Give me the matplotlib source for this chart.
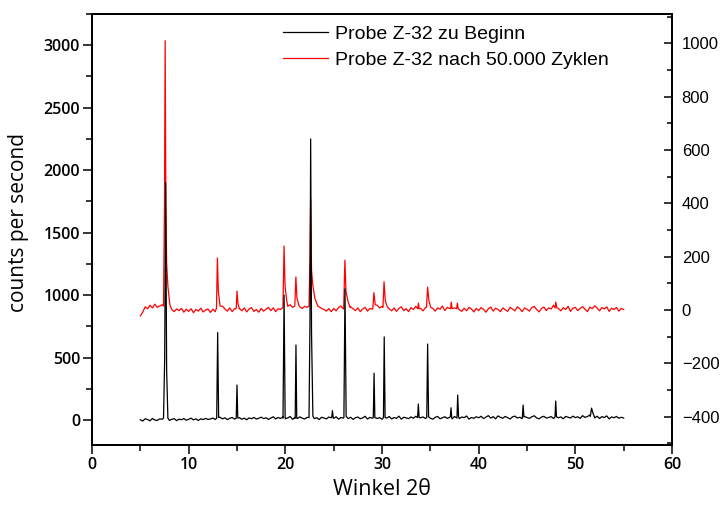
import numpy as np
import matplotlib
matplotlib.use("Agg")
import matplotlib.pyplot as plt
from matplotlib.ticker import MultipleLocator

# 2theta sampling of the flat (background) part of both scans, deg
theta_grid = np.arange(5.0, 55.001, 0.25)

# background of the initial sample (counts per second, left axis)
black_base = [
    2, -8, 10, 4, -6, 12, 0, -4, 9, 6,
    8, 14, -3, 5, 11, -5, 7, 2, 12, -2,
    6, 15, 1, 9, -4, 10, 3, 13, 5, 8,
    16, 4, 11, 22, 9, 18, 3, 14, 20, 7,
    12, 19, 6, 15, 2, 17, 10, 21, 8, 14,
    23, 11, 18, 5, 16, 26, 9, 20, 13, 24,
    10, 17, 28, 6, 19, 12, 25, 15, 8, 21,
    14, 27, 11, 19, 4, 22, 16, 9, 24, 18,
    13, 26, 7, 20, 15, 29, 11, 22, 5, 18,
    24, 10, 17, 30, 8, 21, 14, 27, 12, 19,
    6, 23, 16, 28, 9, 20, 13, 31, 7, 22,
    17, 11, 25, 14, 30, 8, 19, 24, 12, 27,
    15, 6, 21, 29, 10, 18, 26, 13, 22, 9,
    28, 16, 11, 24, 19, 32, 7, 20, 14, 26,
    18, 30, 12, 23, 35, 15, 27, 10, 33, 21,
    14, 29, 19, 8, 25, 31, 16, 22, 11, 28,
    20, 13, 26, 34, 17, 9, 24, 30, 15, 21,
    27, 12, 33, 18, 25, 10, 29, 22, 16, 31,
    19, 26, 13, 35, 21, 28, 40, 24, 17, 30,
    12, 27, 20, 33, 9, 25, 18, 29, 14, 22,
    16,
]

# background after 50.000 cycles (right axis)
red_base = [
    -22, -8, 12, 5, 18, 8, 22, 10, 15, 20,
    15, 10, 5, 2, -6, 4, -2, 6, -8, 3,
    -5, 5, -10, 2, -4, 7, -7, 0, 4, -9,
    3, -6, 6, 10, 14, 4, -4, 8, -6, 5,
    12, 6, -3, 8, -7, 4, 9, -5, 2, -8,
    6, -4, 3, 10, -2, 8, -6, 5, 2, 9,
    18, 14, 20, 10, 16, 8, 12, 6, 14, 10,
    15, 22, 18, 25, 12, 6, 2, -4, 5, -6,
    6, -3, 9, 15, 4, 30, 20, 12, 5, -2,
    8, -6, 4, 10, -4, 6, 3, 12, 18, 8,
    14, 25, 10, 4, -3, 8, -5, 6, 12, -2,
    5, -6, 9, 2, 14, 20, 6, -3, 10, 25,
    12, 6, -4, 8, 3, 15, -2, 10, 6, 18,
    8, 14, 2, -5, 7, -3, 10, 4, -7, 6,
    -2, 9, 3, -8, 5, 11, -4, 7, 2, -6,
    8, 1, -5, 10, 4, -3, 12, 5, -6, 8,
    3, -4, 9, 14, 2, -7, 6, 11, -2, 8,
    4, 18, 12, 6, -3, 9, 2, 14, -5, 7,
    10, -2, 6, 13, 3, -6, 11, 5, 16, 8,
    -3, 9, 4, 12, -5, 7, 2, 10, -4, 6,
    2,
]

# reflections: (2theta, value) from left foot over the top to right foot
black_peaks = [
    [(7.40, 15), (7.52, 500), (7.62, 1900), (7.72, 400), (7.85, 15)],
    [(12.90, 15), (13.00, 700), (13.10, 20)],
    [(14.92, 15), (15.00, 280), (15.08, 15)],
    [(19.76, 15), (19.87, 1000), (19.98, 20)],
    [(21.02, 15), (21.10, 600), (21.18, 15)],
    [(22.45, 20), (22.55, 800), (22.62, 2250), (22.71, 700), (22.85, 30)],
    [(24.80, 20), (24.87, 75), (24.95, 20)],
    [(26.06, 20), (26.17, 1050), (26.29, 30)],
    [(29.10, 20), (29.18, 375), (29.26, 20)],
    [(30.15, 20), (30.23, 665), (30.32, 20)],
    [(33.68, 20), (33.76, 128), (33.84, 20)],
    [(34.63, 20), (34.72, 608), (34.82, 25)],
    [(37.07, 25), (37.14, 98), (37.21, 20)],
    [(37.76, 20), (37.83, 200), (37.92, 25)],
    [(44.52, 25), (44.60, 120), (44.68, 25)],
    [(47.90, 25), (47.97, 152), (48.05, 25)],
    [(51.55, 30), (51.68, 95), (51.80, 60), (51.95, 30)],
]

red_peaks = [
    [(7.40, 15), (7.50, 400), (7.57, 1010), (7.64, 400), (7.72, 176), (7.85, 90), (8.05, 20)],
    [(12.88, 8), (12.97, 195), (13.07, 70), (13.25, 15)],
    [(14.92, 5), (15.00, 71), (15.10, 25), (15.24, 5)],
    [(19.75, 10), (19.87, 240), (19.97, 90), (20.15, 35)],
    [(20.98, 15), (21.09, 124), (21.20, 45), (21.40, 18)],
    [(22.45, 15), (22.55, 200), (22.62, 420), (22.71, 150), (22.84, 95), (23.05, 45), (23.35, 15)],
    [(26.04, 10), (26.16, 187), (26.27, 70), (26.50, 30), (26.70, 10)],
    [(29.05, 5), (29.16, 65), (29.30, 20)],
    [(30.10, 10), (30.21, 106), (30.34, 35), (30.55, 12)],
    [(33.70, 5), (33.77, 26), (33.85, 5)],
    [(34.60, 10), (34.72, 86), (34.85, 35), (35.05, 10)],
    [(37.10, 5), (37.17, 30), (37.25, 5)],
    [(37.72, 5), (37.80, 26), (37.88, 5)],
    [(47.90, 8), (47.98, 30), (48.08, 8)],
]

labels = ["Probe Z-32 zu Beginn", "Probe Z-32 nach 50.000 Zyklen"]


def build_trace(base, peaks):
    # background points outside the peaks plus the peak vertices, sorted by angle
    pts = []
    for x, y in zip(theta_grid, base):
        inside = any(pk[0][0] <= x <= pk[-1][0] for pk in peaks)
        if not inside:
            pts.append((float(x), y))
    for pk in peaks:
        pts.extend(pk)
    pts.sort()
    return [p[0] for p in pts], [p[1] for p in pts]


bx, by = build_trace(black_base, black_peaks)
rx, ry = build_trace(red_base, red_peaks)

fig = plt.figure(figsize=(7.22, 5.09), dpi=100)
ax = fig.add_axes([92 / 722, 1 - 445 / 509, 580 / 722, 431 / 509])
ax2 = ax.twinx()

l2, = ax2.plot(rx, ry, color="#ff0000", lw=0.9)
l1, = ax.plot(bx, by, color="black", lw=0.9)

# black trace drawn above the red one
ax.set_zorder(ax2.get_zorder() + 1)
ax.patch.set_visible(False)

ax.set_xlim(0, 60)
ax.set_ylim(-200, 3250)
ax2.set_ylim(-506, 1110)

ax.xaxis.set_major_locator(MultipleLocator(10))
ax.xaxis.set_minor_locator(MultipleLocator(5))
ax.yaxis.set_major_locator(MultipleLocator(500))
ax.yaxis.set_minor_locator(MultipleLocator(250))
ax2.yaxis.set_major_locator(MultipleLocator(200))
ax2.yaxis.set_minor_locator(MultipleLocator(100))

ax.tick_params(axis="both", which="major", direction="out", length=6.5, width=1.1, pad=2)
ax.tick_params(axis="both", which="minor", direction="out", length=4, width=1.1)
ax.tick_params(top=False, right=False, which="both")
ax2.tick_params(axis="y", which="major", direction="in", length=5.5, width=1.1, pad=7)
ax2.tick_params(axis="y", which="minor", direction="in", length=3.5, width=1.1)

for a in (ax, ax2):
    for s in a.spines.values():
        s.set_linewidth(1.3)

for t in ax.get_xticklabels() + ax.get_yticklabels():
    t.set_fontfamily("Open Sans")
    t.set_fontweight("semibold")
    t.set_fontsize(11.5)
for t in ax2.get_yticklabels():
    t.set_fontfamily("Liberation Sans")
    t.set_fontsize(12)

ax.set_xlabel("Winkel 2\u03b8", fontfamily="Open Sans", fontsize=15.5)
ax.set_ylabel("counts per second", fontfamily="Open Sans", fontsize=15)
ax.xaxis.set_label_coords(0.5, -0.079)
ax.yaxis.set_label_coords(-0.108, 0.517)

ax.legend([l1, l2], labels, loc="upper left", frameon=False,
          bbox_to_anchor=(283 / 722, 1 - 25 / 509), bbox_transform=fig.transFigure,
          borderpad=0, borderaxespad=0, handlelength=2.3, handletextpad=0.36,
          labelspacing=0.45, prop={"family": "Liberation Sans", "size": 14})

fig.savefig("out.png", dpi=100)
